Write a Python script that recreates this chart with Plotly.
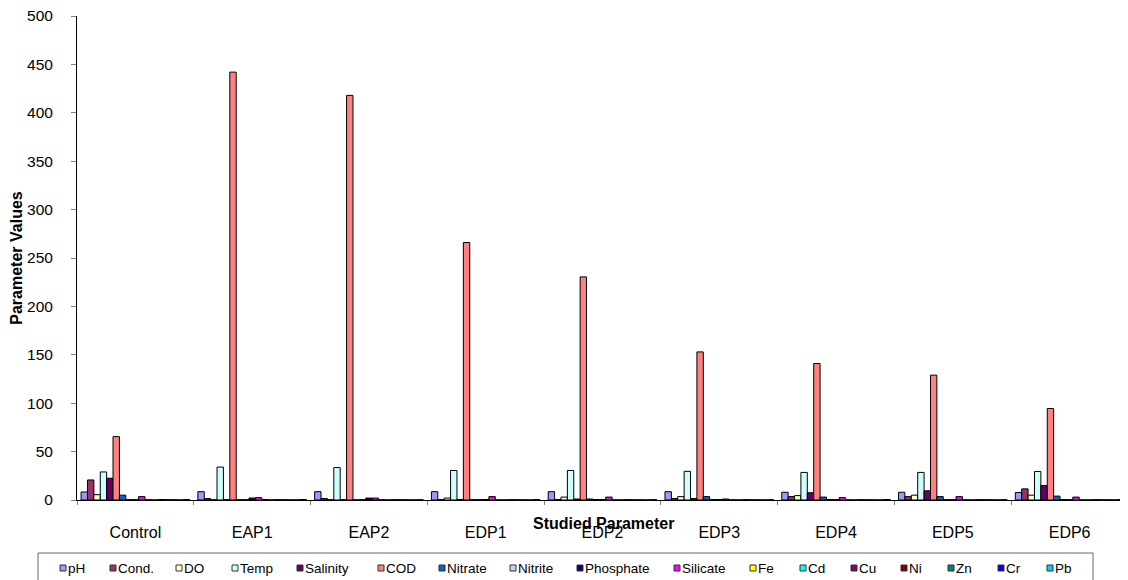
import plotly.graph_objects as go

categories = ["Control", "EAP1", "EAP2", "EDP1", "EDP2", "EDP3", "EDP4", "EDP5", "EDP6"]

series_names = ["pH", "Cond.", "DO", "Temp", "Salinity", "COD", "Nitrate", "Nitrite",
                "Phosphate", "Silicate", "Fe", "Cd", "Cu", "Ni", "Zn", "Cr", "Pb"]

pH        = [8.3, 8.6, 8.6, 8.6, 8.6, 8.6, 8.0, 8.0, 7.7]
cond      = [20.7, 1.5, 1.5, 0.5, 0.5, 1.5, 3.5, 3.5, 11.5]
do        = [5.5, 0.3, 0.3, 2.0, 3.0, 3.5, 4.5, 5.0, 5.0]
temp      = [29.0, 34.0, 33.5, 30.5, 30.5, 29.6, 28.5, 28.5, 29.5]
salinity  = [22.5, 0.3, 0.3, 0.5, 1.0, 1.5, 7.5, 9.5, 15.0]
cod       = [65.5, 442.0, 418.0, 266.0, 230.5, 153.0, 141.0, 129.0, 94.5]
nitrate   = [5.0, 0.2, 0.2, 0.3, 1.0, 3.5, 3.0, 3.5, 4.0]
nitrite   = [0.3, 0.3, 0.3, 0.3, 0.5, 0.5, 0.5, 0.3, 0.5]
phosphate = [0.3, 2.0, 2.0, 0.5, 0.5, 0.5, 0.3, 0.3, 0.3]
silicate  = [3.5, 2.5, 2.0, 3.5, 3.0, 1.0, 2.5, 3.5, 3.0]
fe        = [0.3, 0.5, 0.3, 0.2, 0.2, 0.2, 0.2, 0.2, 0.2]
cd        = [0.1, 0.1, 0.1, 0.1, 0.1, 0.1, 0.1, 0.1, 0.1]
cu        = [0.5, 0.3, 0.3, 0.3, 0.3, 0.3, 0.3, 0.3, 0.3]
ni        = [0.3, 0.2, 0.2, 0.2, 0.2, 0.2, 0.2, 0.2, 0.2]
zn        = [0.2, 0.2, 0.2, 0.2, 0.2, 0.2, 0.2, 0.2, 0.2]
cr        = [0.1, 0.1, 0.1, 0.1, 0.1, 0.1, 0.1, 0.1, 0.1]
pb        = [0.5, 0.5, 0.3, 0.5, 0.3, 0.3, 0.5, 0.3, 0.5]

series_values = [pH, cond, do, temp, salinity, cod, nitrate, nitrite, phosphate,
                 silicate, fe, cd, cu, ni, zn, cr, pb]

colors = ["#9999FF", "#993366", "#FFFFCC", "#CCFFFF", "#660066", "#FF8080", "#0066CC",
          "#CCCCFF", "#000080", "#FF00FF", "#FFFF00", "#00FFFF", "#800080", "#800000",
          "#008080", "#0000FF", "#00CCFF"]

y_ticks = [0, 50, 100, 150, 200, 250, 300, 350, 400, 450, 500]

# ---- layout geometry ----
# the page body has an 8px margin, so the figure is sized to fit the 1128x580 window
PAGE_OFF = 8
W, H = 1128 - PAGE_OFF, 580 - PAGE_OFF
ML, MR, MT, MB = 69, 0, 8, 80
PW, PH = W - ML - MR, H - MT - MB

def px_x(px):
    """window x pixel -> paper fraction"""
    return (px - PAGE_OFF - ML) / PW

def px_y(py):
    """window y pixel -> paper fraction"""
    return (H - MB - (py - PAGE_OFF)) / PH

# legend layout (one row in a boxed strip under the axis), window pixels
legend_sym_x = [60, 110, 176, 232, 297, 378, 439, 510, 577, 674, 750, 800, 851, 901, 948, 998, 1047]
legend_row_y = 568
legend_box = (38, 553, 1093, 590)
SYM = 6

FONT = "Liberation Sans, Arial, sans-serif"

fig = go.Figure()
for name, vals, col in zip(series_names, series_values, colors):
    fig.add_trace(go.Bar(
        name=name, x=categories, y=vals,
        marker=dict(color=col, line=dict(color="#000000", width=1)),
    ))

shapes = [dict(
    type="rect", xref="paper", yref="paper",
    x0=px_x(legend_box[0]), x1=px_x(legend_box[2]),
    y0=px_y(legend_box[1]), y1=px_y(legend_box[3]),
    line=dict(color="#666666", width=1), fillcolor="rgba(0,0,0,0)", layer="above",
)]
annotations = [dict(
    text="<b>Studied Parameter</b>", xref="paper", yref="paper",
    x=px_x(603), y=px_y(523), xanchor="center", yanchor="middle", showarrow=False,
    font=dict(family=FONT, size=16, color="#000000"),
)]
for name, col, sx in zip(series_names, colors, legend_sym_x):
    shapes.append(dict(
        type="rect", xref="paper", yref="paper",
        x0=px_x(sx), x1=px_x(sx + SYM),
        y0=px_y(legend_row_y - SYM / 2), y1=px_y(legend_row_y + SYM / 2),
        line=dict(color="#333333", width=1), fillcolor=col,
    ))
    annotations.append(dict(
        text=name, xref="paper", yref="paper",
        x=px_x(sx + SYM + 1), y=px_y(legend_row_y), xanchor="left", yanchor="middle",
        showarrow=False, borderpad=0,
        font=dict(family=FONT, size=13.5, color="#000000"),
    ))

fig.update_layout(
    width=W, height=H,
    margin=dict(l=ML, r=MR, t=MT, b=MB),
    paper_bgcolor="white", plot_bgcolor="white",
    barmode="group", bargap=0.07, bargroupgap=0,
    font=dict(family=FONT, size=12, color="#000000"),
    showlegend=False,
    xaxis=dict(
        type="category", showline=True, linecolor="#000000", linewidth=1,
        ticks="outside", tickson="boundaries", ticklen=4, tickcolor="#808080",
        showgrid=False, zeroline=False,
        tickfont=dict(family=FONT, size=16, color="#000000"),
        ticklabelstandoff=18,
    ),
    yaxis=dict(
        range=[0, 500], tickvals=y_ticks, showline=True, linecolor="#000000", linewidth=1,
        ticks="outside", ticklen=5, tickcolor="#808080", showgrid=False, zeroline=False,
        tickfont=dict(family=FONT, size=15.5, color="#000000"),
        ticklabelstandoff=15, ticklabeloverflow="allow",
        title=dict(text="<b>Parameter Values</b>", font=dict(family=FONT, size=16), standoff=0),
    ),
    shapes=shapes,
    annotations=annotations,
)

fig.write_html("out.html")
